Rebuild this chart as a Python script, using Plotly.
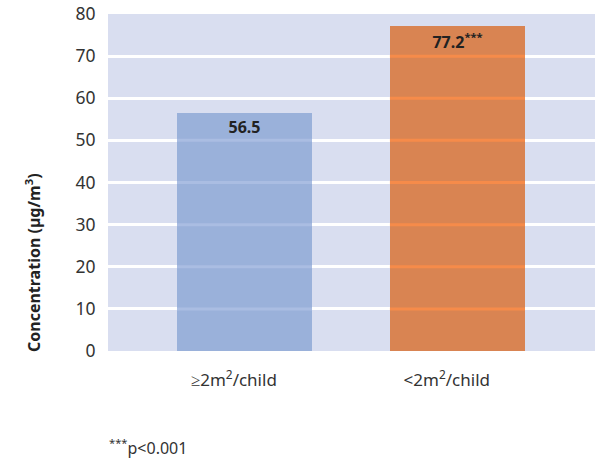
import plotly.graph_objects as go

categories = ["≥2m<sup>2</sup>/child", "<2m<sup>2</sup>/child"]
values = [56.5, 77.2]
labels = ["56.5", "77.2<sup>***</sup>"]
colors = ["#9AB1DA", "#D98452"]
grid_on_bar = ["#AABDE2", "#F68B4A"]
yticks = [0, 10, 20, 30, 40, 50, 60, 70, 80]

FONT = "Noto Sans"
BAR_W = 0.634

fig = go.Figure()
fig.add_trace(go.Bar(
    x=list(range(len(values))), y=values, width=BAR_W,
    marker=dict(color=colors, line=dict(width=0)),
    text=labels, textposition="inside", insidetextanchor="end",
    textfont=dict(family=FONT, size=16, color="#222222", weight="bold"),
    textangle=0, cliponaxis=False, showlegend=False, hoverinfo="skip",
))

# gridlines seen through the bars
for i, v in enumerate(values):
    for t in yticks[1:]:
        if t < v:
            fig.add_shape(type="line", xref="x", yref="y",
                          x0=i - BAR_W / 2, x1=i + BAR_W / 2, y0=t, y1=t,
                          line=dict(color=grid_on_bar[i], width=3), layer="above")

fig.update_layout(
    width=595, height=461,
    margin=dict(l=108, r=0, t=14, b=110),
    paper_bgcolor="white", plot_bgcolor="#D9DEF0",
    font=dict(family=FONT, size=16, color="#333333"),
    bargap=0,
)
fig.update_xaxes(
    range=[-0.641, 1.646], tickmode="array", tickvals=[-0.05, 0.95], ticktext=categories,
    showgrid=False, zeroline=False, ticks="outside", ticklen=14, tickcolor="rgba(0,0,0,0)",
    tickfont=dict(family=FONT, size=17, color="#333333"), automargin=False,
)
fig.update_yaxes(
    range=[0, 80], tickmode="array", tickvals=yticks,
    showgrid=True, gridcolor="white", gridwidth=3, zeroline=False,
    ticks="outside", ticklen=8, tickcolor="rgba(0,0,0,0)", ticklabeloverflow="allow",
    tickfont=dict(family=FONT, size=17.5, color="#333333"), automargin=False,
)
fig.add_annotation(
    text="<b>Concentration (µg/m<sup>3</sup>)</b>", textangle=-90,
    xref="paper", yref="paper", x=-0.154, y=0.261, xanchor="center", yanchor="middle",
    showarrow=False, font=dict(family=FONT, size=16, color="#222222"),
)
fig.add_annotation(
    text="<sup>***</sup>p<0.001",
    xref="paper", yref="paper", x=-0.002, y=-0.285, xanchor="left", yanchor="middle",
    showarrow=False, font=dict(family=FONT, size=16, color="#333333"),
)
fig.write_html(
    "out.html",
    config={"displayModeBar": False},
    post_script=("document.documentElement.style.overflow='hidden';"
                 "document.body.style.margin='0';document.body.style.overflow='hidden';"),
)
